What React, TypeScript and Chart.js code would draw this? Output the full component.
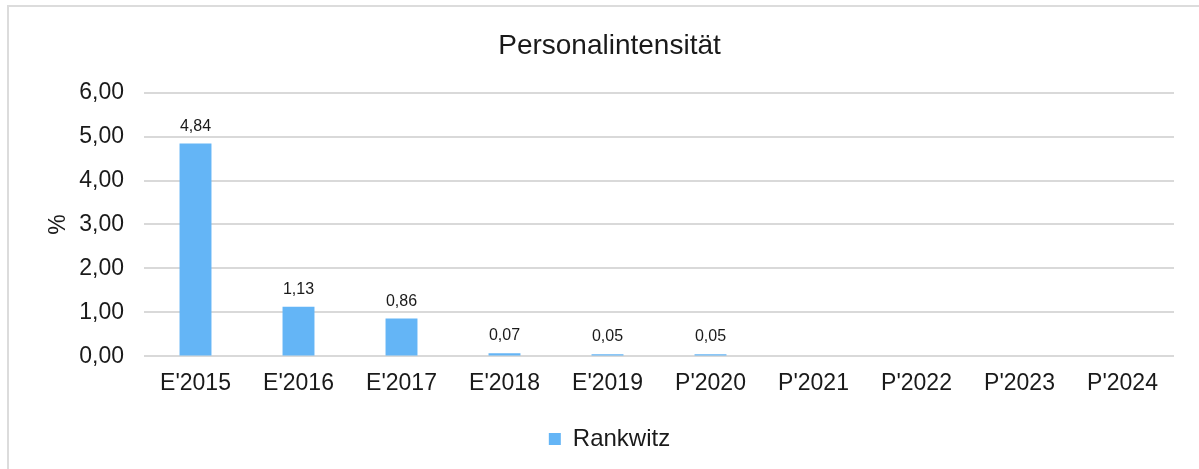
import React, { useEffect, useRef } from "react";
import { Chart, registerables } from "chart.js";

Chart.register(...registerables);

const categories = ["E'2015", "E'2016", "E'2017", "E'2018", "E'2019", "P'2020", "P'2021", "P'2022", "P'2023", "P'2024"];
const values = [4.84, 1.13, 0.86, 0.07, 0.05, 0.05, 0, 0, 0, 0];
const seriesName = "Rankwitz";
const yTicks = [0, 1, 2, 3, 4, 5, 6];
const titleText = "Personalintensität";
const yAxisTitle = "%";

const fmt = (v: number) => v.toFixed(2).replace(".", ",");

const FONT = "'Liberation Sans', Arial, Helvetica, sans-serif";

const dataLabels = {
  id: "dataLabels",
  afterDatasetsDraw(chart: any) {
    const ctx = chart.ctx;
    const meta = chart.getDatasetMeta(0);
    ctx.save();
    ctx.font = `16px ${FONT}`;
    ctx.fillStyle = "#1a1a1a";
    ctx.textAlign = "center";
    ctx.textBaseline = "alphabetic";
    meta.data.forEach((bar: any, i: number) => {
      const v = values[i];
      if (!v) return;
      ctx.fillText(fmt(v), bar.x, bar.y - 13);
    });
    ctx.restore();
  },
};

export default function App() {
  const ref = useRef<HTMLCanvasElement>(null);
  useEffect(() => {
    if (!ref.current) return;
    const chart = new Chart(ref.current, {
      type: "bar",
      data: {
        labels: categories,
        datasets: [
          {
            label: seriesName,
            data: values,
            backgroundColor: "#64B5F6",
            borderWidth: 0,
            barPercentage: 0.62,
            categoryPercentage: 0.5,
          },
        ],
      },
      options: {
        responsive: false,
        animation: false,
        layout: { padding: { left: 36, right: 17, top: 0, bottom: 8 } },
        plugins: {
          title: {
            display: true,
            text: titleText,
            color: "#1a1a1a",
            font: { family: FONT, size: 28, weight: "normal" },
            padding: { top: 22, bottom: 30 },
          },
          legend: {
            position: "bottom",
            labels: {
              color: "#1a1a1a",
              font: { family: FONT, size: 24 },
              boxWidth: 12,
              boxHeight: 12,
              padding: 17,
            },
          },
          tooltip: { enabled: false },
        },
        scales: {
          x: {
            grid: { display: false, drawTicks: false },
            border: { display: false },
            ticks: { color: "#1a1a1a", font: { family: FONT, size: 23 }, padding: 13, maxRotation: 0 },
          },
          y: {
            min: 0,
            max: 6,
            afterBuildTicks: (scale: any) => {
              scale.ticks = yTicks.map((v) => ({ value: v }));
            },
            afterFit: (scale: any) => {
              scale.width = 99;
            },
            grid: { color: "#d9d9d9", lineWidth: 2, drawTicks: false },
            border: { display: false },
            ticks: {
              color: "#1a1a1a",
              font: { family: FONT, size: 23 },
              padding: 20,
              callback: (v: any) => fmt(Number(v)),
            },
            title: {
              display: true,
              text: yAxisTitle,
              color: "#1a1a1a",
              font: { family: FONT, size: 23 },
              padding: { top: 0, bottom: 9 },
            },
          },
        },
      },
      plugins: [dataLabels],
    });
    return () => chart.destroy();
  }, []);
  return (
    <div
      style={{
        position: "absolute",
        left: 7,
        top: 5,
        width: 1200,
        height: 470,
        border: "2px solid #dcdcdc",
        boxSizing: "border-box",
        background: "#fff",
      }}
    >
      <canvas ref={ref} width={1182} height={462} style={{ display: "block" }} />
    </div>
  );
}
